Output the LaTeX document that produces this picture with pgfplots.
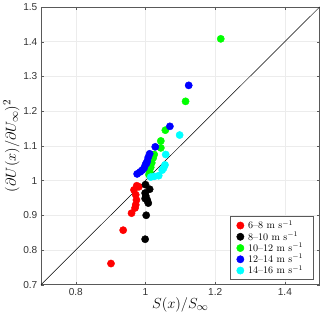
\documentclass[border=0pt]{standalone}
\usepackage{pgfplots}
\pgfplotsset{compat=1.18}
\usepackage{fontspec}
\newfontfamily\ticksf{Liberation Sans}
\definecolor{mred}{rgb}{1,0,0}
\definecolor{mgreen}{rgb}{0,1,0}
\definecolor{mblue}{rgb}{0,0,1}
\definecolor{mcyan}{rgb}{0,1,1}
\begin{document}
\begin{tikzpicture}
\begin{axis}[
  scale only axis, width=276pt, height=275pt,
  xmin=0.7, xmax=1.5, ymin=0.7, ymax=1.5,
  xtick={0.8,1,1.2,1.4}, ytick={0.7,0.8,...,1.5},
  yticklabel style={/pgf/number format/fixed,/pgf/number format/precision=1},
  xticklabel style={/pgf/number format/fixed,/pgf/number format/precision=1},
  /pgf/number format/assume math mode=true,
  tick label style={font=\ticksf\fontsize{10}{12}\selectfont, text=black!80},
  grid=major, grid style={gray!15, line width=0.5pt},
  axis line style={gray!70!black, line width=0.5pt},
  tick style={gray!70!black}, major tick length=3pt,
  tick align=inside,
  xtick pos=both, ytick pos=both,
  xlabel={$S(x)/S_\infty$}, ylabel={$(\partial U(x)/\partial U_\infty)^2$},
  label style={font=\fontsize{15}{17}\selectfont},
  xlabel style={yshift=5pt}, ylabel style={yshift=-3pt},
  legend style={at={(0.978,0.018)}, anchor=south east, font=\fontsize{10}{12}\selectfont, draw=gray!70!black, line width=0.5pt, row sep=-2.5pt, inner xsep=6pt, inner ysep=2pt, legend cell align=left, nodes={inner xsep=4pt}},
  legend image code/.code={\draw[#1] plot coordinates {(0.3cm,0cm)};},
  sc/.style={only marks, mark=*, mark size=3.6pt, mark options={draw=#1, fill=#1}, color=#1},
]
\addplot[black, line width=0.5pt, mark=none, forget plot] coordinates {(0.7,0.7) (1.5,1.5)};
\addplot[sc=mred] coordinates {
(0.901,0.761) (0.936,0.857) (0.960,0.906) (0.970,0.921) (0.972,0.930)
(0.974,0.944) (0.972,0.959) (0.967,0.973) (0.981,0.982) (0.975,0.985)};
\addlegendentry{6--8 m s$^{-1}$}
\addplot[sc=black] coordinates {
(1.000,0.988) (1.012,0.975) (0.999,0.964) (1.001,0.955) (0.999,0.948)
(1.005,0.944) (1.008,0.935) (1.002,0.900) (0.999,0.831)};
\addlegendentry{8--10 m s$^{-1}$}
\addplot[sc=mgreen] coordinates {
(1.216,1.408) (1.115,1.228) (1.057,1.145) (1.044,1.114) (1.044,1.094)
(1.025,1.075) (1.022,1.065) (1.018,1.051) (1.015,1.038) (1.012,1.026) (1.010,1.017)};
\addlegendentry{10--12 m s$^{-1}$}
\addplot[sc=mblue] coordinates {
(1.124,1.274) (1.070,1.156) (1.028,1.097) (1.012,1.077) (1.008,1.067)
(1.005,1.056) (1.003,1.050) (1.000,1.046) (0.996,1.036) (0.991,1.030)
(0.985,1.025) (0.976,1.019)};
\addlegendentry{12--14 m s$^{-1}$}
\addplot[sc=mcyan] coordinates {
(1.098,1.131) (1.058,1.075) (1.056,1.045) (1.052,1.036) (1.048,1.030)
(1.038,1.014) (1.025,1.012) (1.015,1.010)};
\addlegendentry{14--16 m s$^{-1}$}
\end{axis}
\end{tikzpicture}
\end{document}
